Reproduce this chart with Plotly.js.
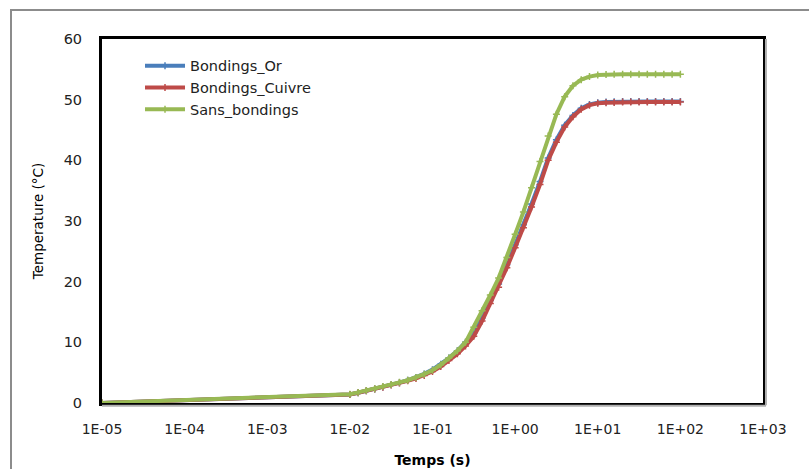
<!DOCTYPE html>
<html>
<head>
<meta charset="utf-8">
<script src="https://cdn.plot.ly/plotly-3.0.1.min.js"></script>
<style>
  html, body { margin: 0; padding: 0; background: #fff; }
  #wrap { position: relative; width: 809px; height: 469px; overflow: hidden; }
  #chart { width: 809px; height: 469px; }
  #frame { position: absolute; left: 10px; top: 9px; width: 1000px; height: 800px;
           border-left: 2px solid #8c8c8c; border-top: 2px solid #8c8c8c; pointer-events: none; }
</style>
</head>
<body>
<div id="wrap">
  <div id="chart"></div>
  <div id="frame"></div>
</div>
<script>
// Time (s)
const timeS = [1e-5,
  0.01, 0.0126, 0.0158, 0.02, 0.0251, 0.0316, 0.0398, 0.0501, 0.0631, 0.0794,
  0.1, 0.126, 0.158, 0.2, 0.251, 0.316, 0.398, 0.501, 0.631, 0.794,
  1, 1.26, 1.58, 2, 2.51, 3.16, 3.98, 5.01, 6.31, 7.94,
  10, 12.6, 15.8, 20, 25.1, 31.6, 39.8, 50.1, 63.1, 79.4, 100];

// Temperature (°C)
const bondingsOr = [0,
  1.4, 1.7, 2.0, 2.3, 2.65, 3.0, 3.35, 3.75, 4.2, 4.8,
  5.5, 6.4, 7.4, 8.6, 10.0, 11.5, 14.0, 16.9, 19.6, 22.8,
  26.1, 29.4, 32.8, 36.5, 40.4, 43.4, 45.8, 47.4, 48.6, 49.2,
  49.5, 49.6, 49.65, 49.7, 49.7, 49.7, 49.7, 49.7, 49.7, 49.7, 49.7];

const bondingsCuivre = [0,
  1.4, 1.7, 2.0, 2.3, 2.6, 2.95, 3.3, 3.65, 4.05, 4.55,
  5.2, 6.0, 7.0, 8.1, 9.4, 11.0, 13.5, 16.4, 19.1, 22.3,
  25.6, 28.9, 32.3, 36.0, 40.0, 43.0, 45.5, 47.2, 48.4, 49.1,
  49.4, 49.5, 49.55, 49.6, 49.6, 49.6, 49.6, 49.6, 49.6, 49.6, 49.6];

const sansBondings = [0,
  1.45, 1.75, 2.05, 2.35, 2.7, 3.05, 3.4, 3.75, 4.2, 4.75,
  5.4, 6.3, 7.4, 8.6, 10.0, 12.5, 15.2, 17.8, 20.6, 24.0,
  27.8, 31.5, 35.5, 39.8, 44.0, 47.6, 50.5, 52.3, 53.3, 53.8,
  54.05, 54.15, 54.2, 54.2, 54.2, 54.2, 54.2, 54.2, 54.2, 54.2, 54.2];

const seriesNames = ['Bondings_Or', 'Bondings_Cuivre', 'Sans_bondings'];
const seriesColors = ['#4a7ebb', '#be4b48', '#98b954'];

const xTickVals = [1e-5, 1e-4, 1e-3, 1e-2, 1e-1, 1, 10, 100, 1000];
const xTickText = ['1E-05', '1E-04', '1E-03', '1E-02', '1E-01', '1E+00', '1E+01', '1E+02', '1E+03'];

const FONT = '"DejaVu Sans", "Liberation Sans", sans-serif';

const ys = [bondingsOr, bondingsCuivre, sansBondings];
const traces = ys.map((y, i) => ({
  type: 'scatter',
  mode: 'lines+markers',
  x: timeS,
  y: y,
  name: seriesNames[i],
  line: { color: seriesColors[i], width: 4 },
  marker: { symbol: 'cross-thin', size: 5, color: seriesColors[i],
            line: { color: seriesColors[i], width: 1.5 } }
}));

const layout = {
  width: 809,
  height: 469,
  margin: { l: 102, r: 46, t: 39, b: 66, pad: 0 },
  paper_bgcolor: '#ffffff',
  plot_bgcolor: '#ffffff',
  font: { family: FONT, size: 14, color: '#222' },
  showlegend: true,
  legend: {
    x: 0.0575, y: 0.9705, xanchor: 'left', yanchor: 'top',
    bgcolor: 'rgba(0,0,0,0)',
    itemwidth: 40,
    font: { family: FONT, size: 14.5, color: '#222' },
    tracegroupgap: 0
  },
  shapes: [
    { type: 'line', xref: 'paper', yref: 'paper', x0: 1.0045, x1: 1.0045, y0: -0.006, y1: 1.0,
      line: { color: '#b0b0b0', width: 2 } },
    { type: 'line', xref: 'paper', yref: 'paper', x0: 0, x1: 1.0045, y0: -0.0075, y1: -0.0075,
      line: { color: '#b0b0b0', width: 2 } }
  ],
  xaxis: {
    type: 'log',
    range: [-5, 3],
    tickvals: xTickVals,
    ticktext: xTickText,
    showgrid: false,
    zeroline: false,
    showline: true,
    linecolor: '#000',
    linewidth: 3,
    mirror: true,
    ticks: '',
    ticklabelstandoff: 11,
    tickfont: { family: FONT, size: 14, color: '#222' },
    title: { text: '<b>Temps (s)</b>', font: { family: FONT, size: 14, color: '#000' }, standoff: 20 }
  },
  yaxis: {
    range: [0, 60],
    dtick: 10,
    tick0: 0,
    showgrid: false,
    zeroline: false,
    showline: true,
    linecolor: '#000',
    linewidth: 3,
    mirror: true,
    ticks: '',
    ticklabelstandoff: 14,
    tickfont: { family: FONT, size: 14.5, color: '#222' },
    title: { text: 'Temperature (°C)', font: { family: FONT, size: 13.5, color: '#000' }, standoff: 17 }
  }
};

Plotly.newPlot('chart', traces, layout, { displayModeBar: false, staticPlot: true });
</script>
</body>
</html>
